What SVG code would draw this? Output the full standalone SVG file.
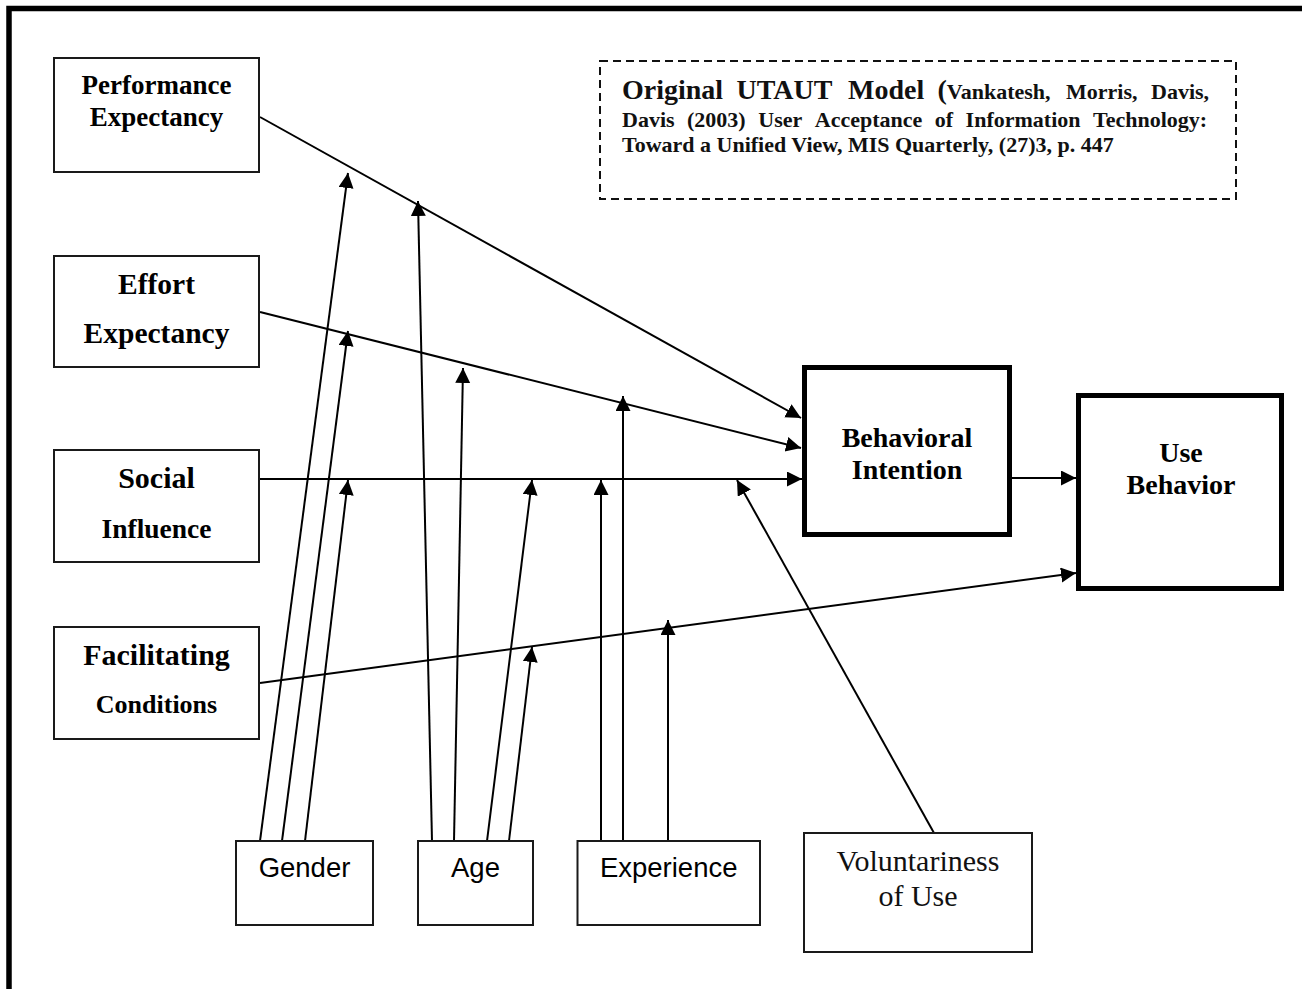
<svg xmlns="http://www.w3.org/2000/svg" width="1302" height="989" viewBox="0 0 1302 989">
<style>
.box{fill:#fff;stroke:#1a1a1a;stroke-width:2}
.thick{fill:#fff;stroke:#000;stroke-width:5}
.lbl{font-family:"Liberation Serif","Times New Roman",serif;font-weight:bold;fill:#000;text-anchor:middle}
.sans{font-family:"Liberation Sans",Arial,sans-serif;fill:#000;text-anchor:middle;font-size:27.5px}
.reg{font-family:"Liberation Serif","Times New Roman",serif;fill:#111;text-anchor:middle;font-size:30px}
.cite{font-family:"Liberation Serif","Times New Roman",serif;font-weight:bold;fill:#111;font-size:22px}
.head{font-size:28px}
.ln{fill:none;stroke:#000;stroke-width:2;marker-end:url(#ah)}
</style>
<defs>
<marker id="ah" markerUnits="userSpaceOnUse" markerWidth="16" markerHeight="16" refX="15" refY="7.5" orient="auto">
<path d="M0,0 L15,7.5 L0,15 z" fill="#000"/>
</marker>
</defs>
<rect width="1302" height="989" fill="#fff"/>
<path d="M9,989 V8.5 H1302" fill="none" stroke="#000" stroke-width="5.5"/>

<g id="connectors">
<line class="ln" x1="260" y1="117" x2="801" y2="418"/>
<line class="ln" x1="260" y1="312" x2="801" y2="448"/>
<line class="ln" x1="260" y1="479" x2="802" y2="479"/>
<line class="ln" x1="1012" y1="478" x2="1076" y2="478"/>
<line class="ln" x1="260" y1="683" x2="1076" y2="573"/>
<line class="ln" x1="260" y1="841" x2="348" y2="173"/>
<line class="ln" x1="282" y1="841" x2="348" y2="331"/>
<line class="ln" x1="305" y1="841" x2="348" y2="480"/>
<line class="ln" x1="432" y1="841" x2="418" y2="201"/>
<line class="ln" x1="454" y1="841" x2="463" y2="368"/>
<line class="ln" x1="487" y1="841" x2="532" y2="480"/>
<line class="ln" x1="509" y1="841" x2="532" y2="647"/>
<line class="ln" x1="601" y1="841" x2="601" y2="480"/>
<line class="ln" x1="623" y1="841" x2="623" y2="396"/>
<line class="ln" x1="668" y1="841" x2="668" y2="620"/>
<line class="ln" x1="934" y1="833" x2="737" y2="480"/>
</g>

<g id="citation">
<rect x="600" y="61" width="636" height="138" fill="none" stroke="#111" stroke-width="2" stroke-dasharray="8,5"/>
<text class="cite" y="99"><tspan class="head" x="622">Original</tspan><tspan class="head" x="736.5">UTAUT</tspan><tspan class="head" x="848">Model</tspan><tspan class="head" x="937.5">(</tspan><tspan x="946.8">Vankatesh,</tspan><tspan x="1066">Morris,</tspan><tspan x="1151">Davis,</tspan></text>
<text class="cite" y="127"><tspan x="622">Davis</tspan><tspan x="687">(2003)</tspan><tspan x="758.3">User</tspan><tspan x="814.8">Acceptance</tspan><tspan x="934.8">of</tspan><tspan x="965.6">Information</tspan><tspan x="1093">Technology:</tspan></text>
<text class="cite" x="622" y="152">Toward a Unified View, MIS Quarterly, (27)3, p. 447</text>
</g>

<g id="performance-expectancy">
<rect class="box" x="54" y="58" width="205" height="114"/>
<text class="lbl" x="156.5" y="94" font-size="27">Performance</text>
<text class="lbl" x="156.5" y="126" font-size="27">Expectancy</text>
</g>
<g id="effort-expectancy">
<rect class="box" x="54" y="256" width="205" height="111"/>
<text class="lbl" x="156.5" y="294" font-size="29.5">Effort</text>
<text class="lbl" x="156.5" y="343" font-size="29.5">Expectancy</text>
</g>
<g id="social-influence">
<rect class="box" x="54" y="450" width="205" height="112"/>
<text class="lbl" x="156.5" y="488" font-size="30">Social</text>
<text class="lbl" x="156.5" y="538" font-size="27.5">Influence</text>
</g>
<g id="facilitating-conditions">
<rect class="box" x="54" y="627" width="205" height="112"/>
<text class="lbl" x="156.5" y="665" font-size="30">Facilitating</text>
<text class="lbl" x="156.5" y="713" font-size="26">Conditions</text>
</g>
<g id="behavioral-intention">
<rect class="thick" x="804.5" y="367.5" width="205" height="167"/>
<text class="lbl" x="907" y="447" font-size="28">Behavioral</text>
<text class="lbl" x="907" y="479" font-size="28">Intention</text>
</g>
<g id="use-behavior">
<rect class="thick" x="1078.5" y="395.5" width="203" height="193"/>
<text class="lbl" x="1181" y="462" font-size="28">Use</text>
<text class="lbl" x="1181" y="494" font-size="28">Behavior</text>
</g>
<g id="gender">
<rect class="box" x="236" y="841" width="137" height="84"/>
<text class="sans" x="304.5" y="877">Gender</text>
</g>
<g id="age">
<rect class="box" x="418" y="841" width="115" height="84"/>
<text class="sans" x="475.5" y="877">Age</text>
</g>
<g id="experience">
<rect class="box" x="577.5" y="841" width="182.5" height="84"/>
<text class="sans" x="668.7" y="877">Experience</text>
</g>
<g id="voluntariness">
<rect class="box" x="804" y="833" width="228" height="119"/>
<text class="reg" x="918" y="871">Voluntariness</text>
<text class="reg" x="918" y="906">of Use</text>
</g>
</svg>
